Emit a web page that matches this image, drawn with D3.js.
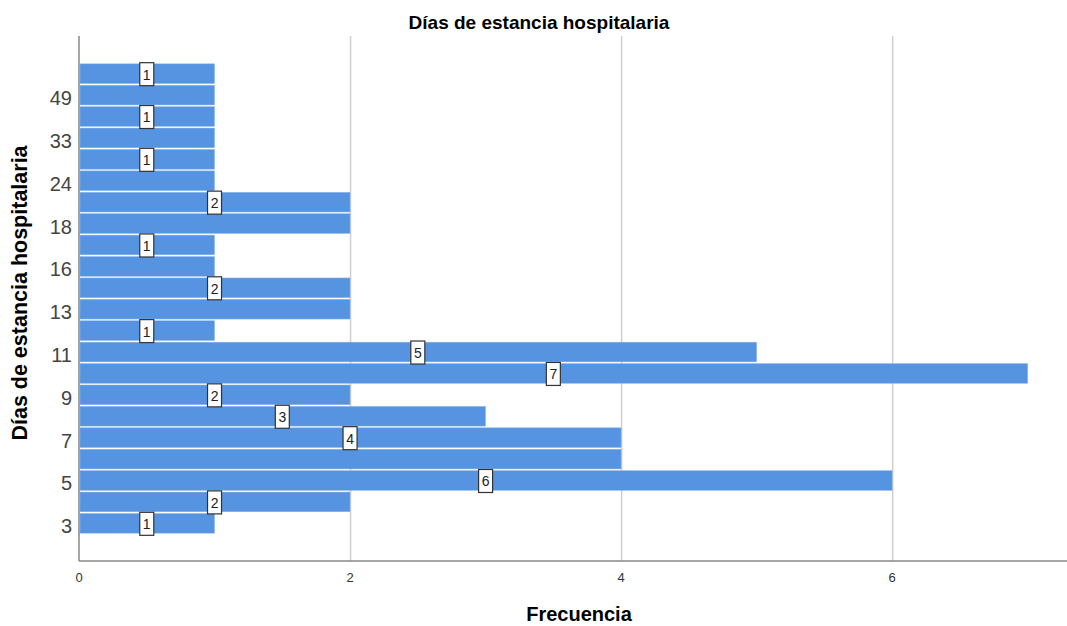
<!DOCTYPE html>
<html lang="es">
<head>
	<meta charset="UTF-8">
	<title>Días de estancia hospitalaria</title>
	<script src="https://d3js.org/d3.v7.min.js"></script>
	<style>
		body { margin: 0; background: #fff; font-family: "Liberation Sans", Arial, sans-serif; }
		.grid line { stroke: #cfcfcf; stroke-width: 1.5; }
		.grid path { display: none; }
	</style>
</head>
<body>
<div id="chart"></div>
<script>
	// categories (bottom to top) and their frequencies
	const dias = ["3", "4", "5", "6", "7", "8", "9", "10", "11", "12", "13",
	              "15", "16", "17", "18", "20", "24", "30", "33", "40", "49", "60"];
	const frecuencia = [1, 2, 6, 4, 4, 3, 2, 7, 5, 1, 2,
	                    2, 1, 1, 2, 2, 1, 1, 1, 1, 1, 1];
	const xTicks = [0, 2, 4, 6];
	// every second category gets a tick label
	const yTickLabels = dias.filter((d, i) => i % 2 === 0);

	const W = 1067, H = 626;
	const margin = {top: 36, right: 0, bottom: 65, left: 79};
	const width = W - margin.left - margin.right,
	      height = H - margin.top - margin.bottom;

	const data = dias.map((d, i) => ({dia: d, n: frecuencia[i]}));

	const svg = d3.select("#chart")
		.append("svg")
		.attr("width", W)
		.attr("height", H);

	const g = svg.append("g")
		.attr("transform", `translate(${margin.left},${margin.top})`);

	const x = d3.scaleLinear()
		.domain([0, 7.29])
		.range([0, width]);

	const y = d3.scaleBand()
		.domain(dias)
		.range([height, 0])
		.paddingInner(0.08)
		.paddingOuter(1.3);

	// vertical grid lines
	g.append("g")
		.attr("class", "grid")
		.call(d3.axisBottom(x).tickValues(xTicks.slice(1)).tickSize(height).tickFormat(""));

	// bars
	g.selectAll("rect.bar")
		.data(data)
		.join("rect")
		.attr("class", "bar")
		.attr("x", 1)
		.attr("y", d => y(d.dia))
		.attr("width", d => x(d.n) - 1)
		.attr("height", y.bandwidth())
		.attr("fill", "#5694e1")
		.attr("stroke", "#8cb6ec")
		.attr("stroke-width", 0.5);

	// axes lines
	g.append("line")
		.attr("x1", 0).attr("x2", 0)
		.attr("y1", 0).attr("y2", height)
		.attr("stroke", "#888").attr("stroke-width", 1.5);
	g.append("line")
		.attr("x1", 0).attr("x2", width)
		.attr("y1", height).attr("y2", height)
		.attr("stroke", "#888").attr("stroke-width", 1.5);

	// x tick labels
	g.selectAll("text.xtick")
		.data(xTicks)
		.join("text")
		.attr("class", "xtick")
		.attr("x", d => x(d))
		.attr("y", height + 21)
		.attr("text-anchor", "middle")
		.style("font-size", "13px")
		.attr("fill", "#333")
		.text(d => d);

	// y tick labels
	g.selectAll("text.ytick")
		.data(yTickLabels)
		.join("text")
		.attr("class", "ytick")
		.attr("x", -7)
		.attr("y", d => y(d) + y.bandwidth() / 2)
		.attr("dy", "0.5em")
		.attr("text-anchor", "end")
		.style("font-size", "20px")
		.attr("fill", "#444")
		.text(d => d);

	// value labels, top-down, skipping any that collide with one already drawn
	const boxW = 14, boxH = 23;
	const placed = [];
	data.slice().reverse().forEach(d => {
		const cx = x(d.n / 2), cy = y(d.dia) + y.bandwidth() / 2;
		const hit = placed.some(p => Math.abs(p.cx - cx) < boxW && Math.abs(p.cy - cy) < boxH);
		if (hit) return;
		placed.push({cx, cy, n: d.n});
	});

	const lab = g.selectAll("g.lab")
		.data(placed)
		.join("g")
		.attr("class", "lab")
		.attr("transform", d => `translate(${d.cx},${d.cy})`);
	lab.append("rect")
		.attr("x", -boxW / 2)
		.attr("y", -boxH / 2 + 0.5)
		.attr("width", boxW)
		.attr("height", boxH)
		.attr("fill", "#fff")
		.attr("stroke", "#333")
		.attr("stroke-width", 1.2);
	lab.append("text")
		.attr("text-anchor", "middle")
		.attr("dy", "0.42em")
		.style("font-size", "14px")
		.attr("fill", "#222")
		.text(d => d.n);

	// title
	svg.append("text")
		.attr("x", 539)
		.attr("y", 29)
		.attr("text-anchor", "middle")
		.style("font-size", "19px")
		.style("font-weight", "bold")
		.text("Días de estancia hospitalaria");

	// x axis label
	svg.append("text")
		.attr("x", 579)
		.attr("y", 621)
		.attr("text-anchor", "middle")
		.style("font-size", "20px")
		.style("font-weight", "bold")
		.text("Frecuencia");

	// y axis label
	svg.append("text")
		.attr("transform", "rotate(-90)")
		.attr("x", -293)
		.attr("y", 27)
		.attr("text-anchor", "middle")
		.style("font-size", "21.5px")
		.style("font-weight", "bold")
		.text("Días de estancia hospitalaria");
</script>
</body>
</html>
